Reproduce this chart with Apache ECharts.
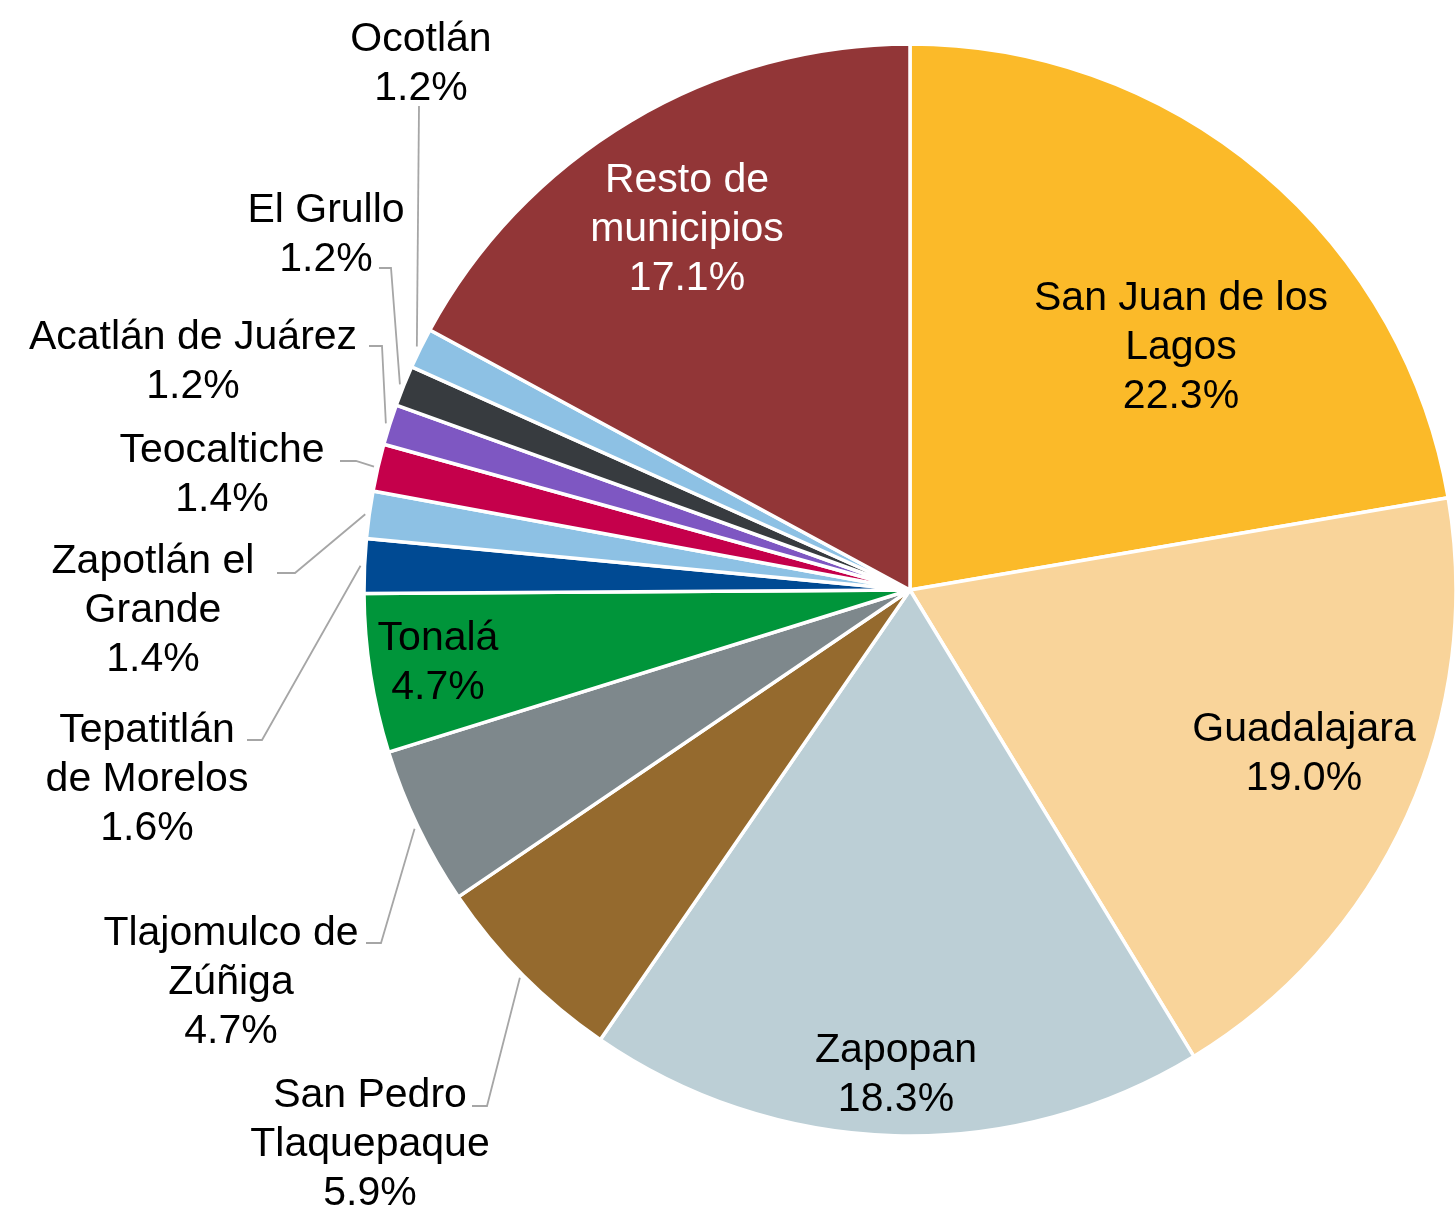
<!DOCTYPE html>
<html>
<head>
<meta charset="utf-8">
<script src="https://cdn.jsdelivr.net/npm/echarts@6/dist/echarts.min.js"></script>
<style>
html,body{margin:0;padding:0;background:#ffffff;}
#chart{width:1456px;height:1208px;}
</style>
</head>
<body>
<div id="chart"></div>
<script>
// ---- data ----
const categories = [
  'San Juan de los\nLagos', 'Guadalajara', 'Zapopan', 'San Pedro\nTlaquepaque',
  'Tlajomulco de\nZúñiga', 'Tonalá', 'Tepatitlán\nde Morelos', 'Zapotlán el\nGrande',
  'Teocaltiche', 'Acatlán de Juárez', 'El Grullo', 'Ocotlán', 'Resto de\nmunicipios'
];
const values = [22.3, 19.0, 18.3, 5.9, 4.7, 4.7, 1.6, 1.4, 1.4, 1.2, 1.2, 1.2, 17.1];

// ---- style ----
const colors = [
  '#FBBA29', '#F9D49A', '#BCCFD6', '#956A2E', '#7E888C', '#00953A', '#004A93',
  '#8DC1E4', '#C5004B', '#7E57C2', '#373B3F', '#8DC1E4', '#923637'
];
const insideLabel = [true, true, true, false, false, true, false, false, false, false, false, false, true];
const labelColor = ['#000', '#000', '#000', '#000', '#000', '#000', '#000', '#000', '#000', '#000', '#000', '#000', '#fff'];

// ---- layout (label block centres and leader-line bend/end points) ----
const CENTER = [910, 590];
const RADIUS = 546;
const labelPos = [
  [1181, 348], [1304, 754], [896, 1075], [370, 1145], [231, 983], [438, 663],
  [147, 780], [153, 611], [222, 475], [193, 362], [326, 235], [421, 64], [687, 230]
];
const leaderPts = [
  null, null, null,
  [[487, 1106], [472, 1106]],
  [[381, 943], [366, 943]],
  null,
  [[262, 740], [247, 740]],
  [[295, 573], [277, 573]],
  [[356, 461], [340, 461]],
  [[382, 346], [369, 346]],
  [[391, 268], [379, 268]],
  [[419, 106]],
  null
];

const chart = echarts.init(document.getElementById('chart'), null, {renderer: 'canvas'});

chart.setOption({
  backgroundColor: '#ffffff',
  animation: false,
  series: [{
    type: 'pie',
    center: CENTER,
    radius: RADIUS,
    startAngle: 90,
    clockwise: true,
    avoidLabelOverlap: false,
    emphasis: {disabled: true},
    itemStyle: {borderColor: '#ffffff', borderWidth: 3.5},
    label: {
      fontFamily: '"Liberation Sans", Arial, sans-serif',
      fontSize: 41,
      lineHeight: 49,
      color: '#000',
      overflow: 'none',
      formatter: function (p) { return p.name + '\n' + p.value.toFixed(1) + '%'; }
    },
    labelLine: {
      show: true, length: 10, length2: 10,
      lineStyle: {color: '#A6A6A6', width: 1.8}
    },
    labelLayout: function (p) {
      const i = p.dataIndex;
      const res = {x: labelPos[i][0], y: labelPos[i][1], align: 'center', verticalAlign: 'middle', width: 500};
      if (leaderPts[i] && p.labelLinePoints) {
        const s = p.labelLinePoints[0];
        const dx = s[0] - CENTER[0], dy = s[1] - CENTER[1];
        const d = Math.sqrt(dx * dx + dy * dy);
        const start = [CENTER[0] + dx / d * (RADIUS + 4), CENTER[1] + dy / d * (RADIUS + 4)];
        res.labelLinePoints = [start].concat(leaderPts[i]);
      }
      return res;
    },
    data: categories.map(function (name, i) {
      return {
        name: name,
        value: values[i],
        itemStyle: {color: colors[i]},
        label: {position: insideLabel[i] ? 'inside' : 'outside', color: labelColor[i]},
        labelLine: {show: !insideLabel[i]}
      };
    })
  }]
});
</script>
</body>
</html>
